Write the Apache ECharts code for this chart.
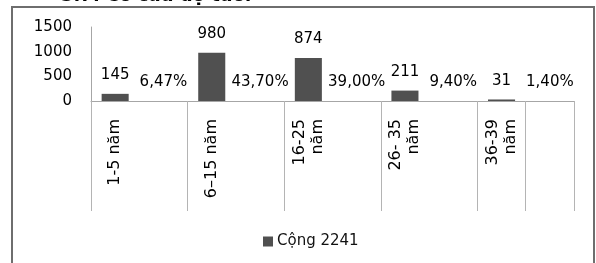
<!DOCTYPE html>
<html>
<head>
<meta charset="utf-8">
<script src="https://cdn.jsdelivr.net/npm/echarts@6/dist/echarts.min.js"></script>
<style>
  html, body { margin: 0; padding: 0; background: #fff; }
  #wrap { position: relative; width: 596px; height: 263px; overflow: hidden; }
  #frame { position: absolute; left: 11px; top: 6px; width: 580px; height: 300px; border: 2px solid #6e6e6e; box-sizing: content-box; }
  #chart { position: absolute; left: 0; top: 0; width: 596px; height: 263px; }
</style>
</head>
<body>
<div id="wrap">
  <div id="frame"></div>
  <div id="chart"></div>
</div>
<script>
// ---- data ----
const titleText = '3.7. Cơ cấu độ tuổi';
const seriesName = 'Cộng 2241';
const groupLabels = ['1-5 năm', '6–15 năm', '16-25\nnăm', '26- 35\nnăm', '36-39\nnăm'];
const counts = [145, 980, 874, 211, 31];
const shares = [6.47, 43.70, 39.00, 9.40, 1.40]; // percent
const yTicks = [0, 500, 1000, 1500];
const separatorIdx = [0, 2, 4, 6, 8, 9];

// build interleaved categories: count bar, then share (near-zero) bar
const categories = [];
const values = [];
const labelTexts = [];
groupLabels.forEach(function (g, i) {
  categories.push(g);
  values.push(counts[i]);
  labelTexts.push(String(counts[i]));
  categories.push('');
  values.push(shares[i] / 100);
  labelTexts.push(shares[i].toFixed(2).replace('.', ',') + '%');
});

const FONT = 'DejaVu Sans';
const chart = echarts.init(document.getElementById('chart'), null, { renderer: 'canvas' });
chart.setOption({
  animation: false,
  backgroundColor: 'transparent',
  textStyle: { fontFamily: FONT },
  title: {
    text: titleText,
    left: 61,
    top: -13,
    padding: 0,
    textStyle: { fontFamily: FONT, fontSize: 18, fontWeight: 'bold', color: '#000' }
  },
  legend: {
    data: [seriesName],
    left: 258,
    top: 229,
    itemWidth: 10,
    itemHeight: 10,
    itemGap: 4,
    icon: 'rect',
    textStyle: { fontFamily: FONT, fontSize: 15, color: '#111', padding: [0, 0, 0, -1] }
  },
  grid: { left: 91, right: 22, top: 27, bottom: 162, containLabel: false },
  xAxis: {
    type: 'category',
    data: categories,
    boundaryGap: true,
    axisLine: { lineStyle: { color: '#a6a6a6', width: 1 } },
    axisTick: {
      show: true,
      inside: false,
      length: 110,
      interval: function (idx) { return separatorIdx.indexOf(idx) >= 0; },
      lineStyle: { color: '#b4b4b4', width: 1 }
    },
    axisLabel: {
      interval: 0,
      rotate: 90,
      margin: 18,
      fontFamily: FONT,
      fontSize: 16,
      color: '#000',
      lineHeight: 18,
      padding: [6, 0, 0, 0]
    },
    splitLine: { show: false }
  },
  yAxis: {
    type: 'value',
    min: yTicks[0],
    max: yTicks[yTicks.length - 1],
    interval: yTicks[1] - yTicks[0],
    axisLine: { show: true, lineStyle: { color: '#a6a6a6', width: 1 } },
    axisTick: { show: false },
    splitLine: { show: false },
    axisLabel: {
      margin: 19, fontFamily: FONT, fontSize: 15, color: '#000',
      formatter: function (v) { return String(v); }
    }
  },
  series: [{
    name: seriesName,
    type: 'bar',
    data: values,
    barWidth: '56%',
    itemStyle: { color: '#505050' },
    label: {
      show: true,
      position: 'top',
      distance: 11,
      fontFamily: FONT,
      fontSize: 15,
      color: '#000',
      formatter: function (p) { return labelTexts[p.dataIndex]; }
    }
  }]
});
</script>
</body>
</html>
